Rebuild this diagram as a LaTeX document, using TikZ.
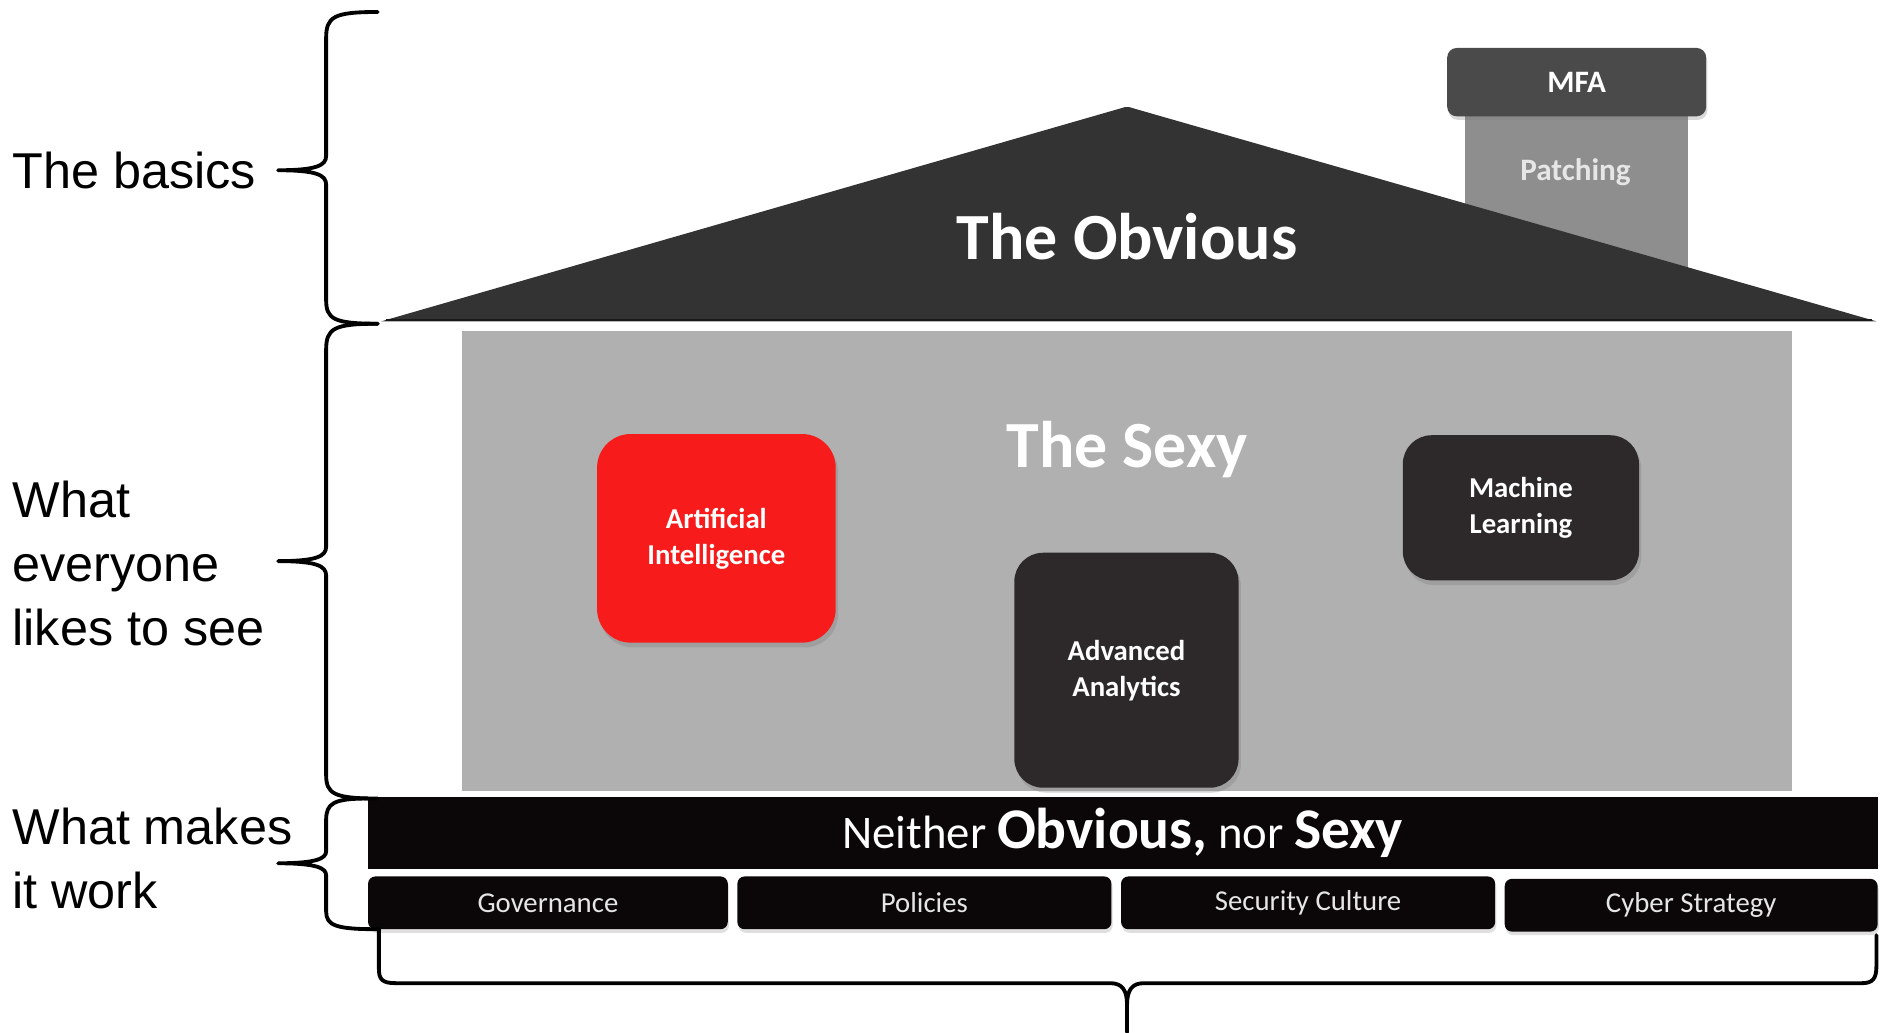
\documentclass[tikz,border=0pt]{standalone}
\usepackage{fontspec}
\setmainfont{Carlito}
\newfontfamily\labelfont{Liberation Sans}
\usetikzlibrary{shadows}
\definecolor{roofc}{HTML}{333333}
\definecolor{chimc}{HTML}{8E8E8E}
\definecolor{capc}{HTML}{4A4A4A}
\definecolor{bodyc}{HTML}{B0B0B0}
\definecolor{redc}{HTML}{F81B1B}
\definecolor{darkc}{HTML}{2D292A}
\definecolor{bandc}{HTML}{0B0708}
\definecolor{lighttext}{HTML}{E6E6E6}
\begin{document}
\begin{tikzpicture}[x=0.5pt,y=-0.5pt,
  bracestyle/.style={line width=1.6pt, line join=round, line cap=round},
  sidelabel/.style={font=\labelfont\fontsize{21pt}{26.5pt}\selectfont, anchor=west, align=left, inner sep=0pt},
  bigtitle/.style={font=\bfseries\fontsize{27.5pt}{33pt}\selectfont, text=white, inner sep=0pt},
  featurebox/.style={rounded corners=12pt, inner sep=0pt, align=center, text=white,
     font=\bfseries\fontsize{12pt}{15pt}\selectfont,
     drop shadow={shadow xshift=1pt, shadow yshift=-2pt, opacity=0.35}},
  basebox/.style={fill=bandc, rounded corners=3pt, inner sep=0pt, minimum height=22pt,
     text=lighttext, font=\fontsize{12pt}{14pt}\selectfont,
     drop shadow={shadow xshift=0.5pt, shadow yshift=-1.5pt, opacity=0.25}}
]
\useasboundingbox (0,0) rectangle (1568,861);

% chimney body (behind roof)
\node[fill=chimc, minimum width=93pt, minimum height=70pt, inner sep=0pt] (chimney) at (1315,162) {};
\node[font=\bfseries\fontsize{13pt}{15pt}\selectfont, text=lighttext, inner sep=0pt] (patching) at (1314,144) {Patching};
% chimney cap
\node[fill=capc, rounded corners=4pt, minimum width=108pt, minimum height=28.5pt, inner sep=0pt,
      font=\bfseries\fontsize{13pt}{15pt}\selectfont, text=white,
      drop shadow={shadow xshift=0.5pt, shadow yshift=-1.5pt, opacity=0.3}] (mfa) at (1315,68.5) {MFA};

% roof
\fill[roofc] (318,268) -- (936,90) .. controls (938,89) and (942,89) .. (944,90) -- (1565,268) -- cycle;
\draw[black!90, line width=1pt] (322,267) -- (1561,267);
\node[bigtitle] (obvious) at (940,197) {The Obvious};

% main body
\fill[bodyc] (385,276) rectangle (1495,660);
\node[bigtitle] (sexy) at (940,375) {The Sexy};

\node[featurebox, fill=redc, rounded corners=14pt, minimum width=99.5pt, minimum height=87pt] (ai) at (597.5,449) {Artificial\\Intelligence};
\node[featurebox, fill=darkc, minimum width=98.5pt, minimum height=60.5pt] (ml) at (1268.5,423.5) {Machine\\Learning};
\node[featurebox, fill=darkc, minimum width=93.5pt, minimum height=98pt] (aa) at (939.5,559) {Advanced\\Analytics};

% foundation band
\node[fill=bandc, minimum width=629.5pt, minimum height=30pt, inner sep=0pt, text=white] (band) at (936.5,695)
  {\fontsize{19.5pt}{22pt}\selectfont Neither {\bfseries\fontsize{24pt}{26pt}\selectfont Obvious,} nor {\bfseries\fontsize{24pt}{26pt}\selectfont Sexy}};

\node[basebox, minimum width=150pt] (gov) at (457,753) {Governance};
\node[basebox, minimum width=156pt] (pol) at (771,753) {Policies};
\node[basebox, minimum width=156pt] (sec) at (1091,753) {Security Culture};
\node[basebox, minimum width=155.5pt] (cyb) at (1410.5,755) {Cyber Strategy};

% left labels
\node[sidelabel] (basics) at (10,142) {The basics};
\node[sidelabel] (everyone) at (10,470) {What\\everyone\\likes to see};
\node[sidelabel] (work) at (10,716) {What makes\\it work};

% braces
\draw[bracestyle] (315,10) .. controls (278,10) and (272,14) .. (272,32) -- (272,130)
  .. controls (272,138) and (264,142) .. (232,142)
  .. controls (264,142) and (272,146) .. (272,154) -- (272,250)
  .. controls (272,266) and (278,270) .. (315,270);
\draw[bracestyle] (315,270) .. controls (278,270) and (272,274) .. (272,292) -- (272,456)
  .. controls (272,464) and (264,468) .. (232,468)
  .. controls (264,468) and (272,472) .. (272,480) -- (272,646)
  .. controls (272,662) and (278,666) .. (315,666);
\draw[bracestyle] (307,666) .. controls (278,666) and (272,670) .. (272,684) -- (272,710)
  .. controls (272,716) and (264,720) .. (232,720)
  .. controls (264,720) and (272,724) .. (272,730) -- (272,760)
  .. controls (272,772) and (280,775) .. (315,775);
% bottom brace
\draw[bracestyle] (316,775) -- (316,808) .. controls (316,817) and (319,820) .. (330,820)
  -- (926,820) .. controls (936,820) and (940,826) .. (940,838) -- (940,861);
\draw[bracestyle] (940,838) .. controls (940,826) and (944,820) .. (954,820)
  -- (1553,820) .. controls (1562,820) and (1565,816) .. (1565,806) -- (1565,780);
\end{tikzpicture}
\end{document}
